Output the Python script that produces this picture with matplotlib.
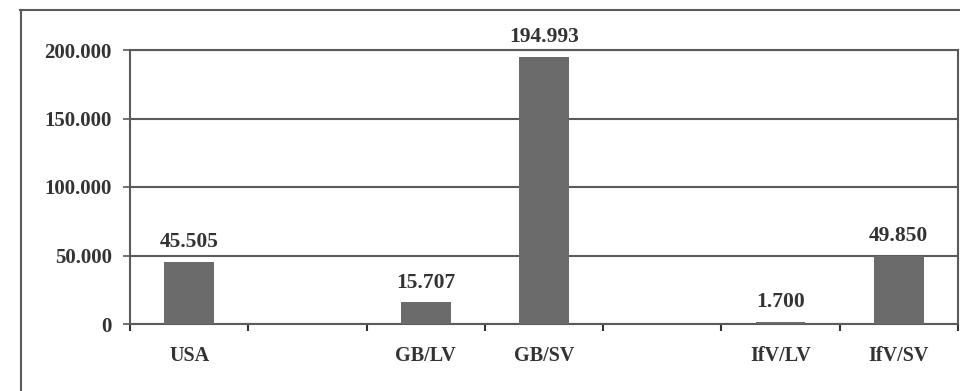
import matplotlib.pyplot as plt
from matplotlib.lines import Line2D
import numpy as np

# categories (empty slots kept as in the original chart)
categories = ["USA", "", "GB/LV", "GB/SV", "", "IfV/LV", "IfV/SV"]
values = [45505, np.nan, 15707, 194993, np.nan, 1700, 49850]
value_labels = ["45.505", "", "15.707", "194.993", "", "1.700", "49.850"]
yticks = [0, 50000, 100000, 150000, 200000]
ytick_labels = ["0", "50.000", "100.000", "150.000", "200.000"]

plt.rcParams['font.family'] = ['Liberation Serif', 'DejaVu Serif']
plt.rcParams['font.weight'] = 'bold'

grey = "#5a5a5a"
text_col = "#333333"

fig = plt.figure(figsize=(9.6, 3.91), dpi=100)
ax = fig.add_axes([130/960, 1-324/391, 828/960, 274/391])

x = np.arange(len(categories))
ax.bar(x, values, width=0.42, color="#6b6b6b", zorder=3)

ax.set_xlim(-0.5, len(categories) - 0.5)
ax.set_ylim(0, 200000)
ax.set_yticks(yticks)
ax.set_yticklabels(ytick_labels, fontsize=15, color=text_col, fontweight='bold')
ax.set_xticks(x)
ax.set_xticklabels(categories, fontsize=14.5, color=text_col, fontweight='bold')
ax.set_xticks(np.arange(len(categories) + 1) - 0.5, minor=True)
ax.tick_params(axis='x', which='major', length=0, pad=16)
ax.tick_params(axis='x', which='minor', length=5, width=1.5, color='#333333', direction='out')
ax.tick_params(axis='y', length=5, width=1.2, color=grey, pad=8)

ax.grid(axis='y', color=grey, linewidth=1.5, zorder=0)
for s in ax.spines.values():
    s.set_color(grey)
    s.set_linewidth(1.5)

for xi, v, lab in zip(x, values, value_labels):
    if lab:
        ax.annotate(lab, (xi, v), xytext=(0, 7), textcoords='offset points',
                    ha='center', va='bottom', fontsize=15.5, fontweight='bold', color=text_col)

# outer frame of the original figure
fig.add_artist(Line2D([20/960, 1], [1-10/391, 1-10/391], transform=fig.transFigure, color=grey, linewidth=1.5))
fig.add_artist(Line2D([21/960, 21/960], [0, 1-10/391], transform=fig.transFigure, color=grey, linewidth=1.5))

fig.savefig("out.png", dpi=100)
